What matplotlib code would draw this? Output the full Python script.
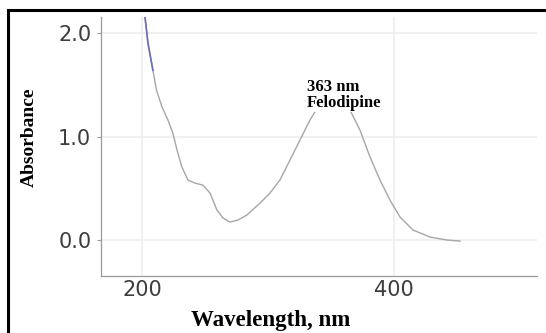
import matplotlib
matplotlib.use('Agg')
import matplotlib.pyplot as plt
from matplotlib.lines import Line2D

# spectrum (nm, absorbance)
wavelength = [200.5, 202.4, 204.8, 208.7, 211.5, 215.9, 220.6, 224.6, 227.8, 231.7,
              236.5, 242.1, 248.4, 254.0, 259.5, 264.3, 269.8, 276.2, 283.3, 293.7,
              301.6, 309.5, 317.5, 325.4, 333.3, 339.7, 344.0, 347.6, 353.2, 358.7,
              362.0, 365.1, 373.0, 381.0, 388.9, 396.8, 404.8, 415.1, 428.6, 442.1,
              452.4]
absorbance = [2.35, 2.155, 1.90, 1.64, 1.45, 1.285, 1.16, 1.03, 0.87, 0.705,
              0.58, 0.55, 0.53, 0.454, 0.29, 0.213, 0.174, 0.193, 0.242, 0.357,
              0.454, 0.58, 0.773, 0.966, 1.159, 1.285, 1.35, 1.40, 1.43, 1.39,
              1.33, 1.256, 1.063, 0.802, 0.58, 0.386, 0.222, 0.097, 0.029, 0.0,
              -0.01]
n_blue = 4  # first points drawn in blue

x_ticks = [200, 400]
y_ticks = [0.0, 1.0, 2.0]
y_ticklabels = ['0.0', '1.0', '2.0']
peak_label = '363 nm\nFelodipine'
peak_label_pos = (331, 1.56)

fig = plt.figure(figsize=(5.46, 3.33), dpi=100)
ax = fig.add_axes([0.185, 0.171, 0.7985, 0.778])

# frame lines at top and left of the picture
fig.lines.append(Line2D([8 / 546, 8 / 546], [0, 323 / 333], transform=fig.transFigure,
                        color='black', linewidth=2.2))
fig.lines.append(Line2D([8 / 546, 1], [323 / 333, 323 / 333], transform=fig.transFigure,
                        color='black', linewidth=2.2))

ax.plot(wavelength, absorbance, color='#a6a6a6', linewidth=1.0, zorder=2)
ax.plot(wavelength[:n_blue], absorbance[:n_blue], color='#6f6fb4', linewidth=1.2, zorder=3)

ax.set_xlim(167.5, 513.5)
ax.set_ylim(-0.348, 2.155)
ax.set_xticks(x_ticks)
ax.set_yticks(y_ticks)
ax.set_yticklabels(y_ticklabels)
ax.grid(True, color='#efefef', linewidth=1.3, zorder=0)
ax.set_axisbelow(True)

for side in ['top', 'right']:
    ax.spines[side].set_visible(False)
for side in ['left', 'bottom']:
    ax.spines[side].set_color('#9a9a9a')
    ax.spines[side].set_linewidth(0.9)

ax.tick_params(axis='x', length=0, pad=3, labelsize=15, labelcolor='#3d3d3d')
ax.tick_params(axis='y', length=3, width=0.8, color='#9a9a9a', pad=4, labelsize=15,
               labelcolor='#3d3d3d')

ax.set_xlabel('Wavelength, nm', family='Liberation Serif', fontweight='bold', fontsize=16.5)
ax.xaxis.set_label_coords(0.39, -0.13)
ax.xaxis.label.set_va('top')
ax.set_ylabel('Absorbance', family='Liberation Serif', fontweight='bold', fontsize=14)
ax.yaxis.set_label_coords(-0.145, 0.535)

ax.text(peak_label_pos[0], peak_label_pos[1], peak_label, family='Liberation Serif',
        fontweight='bold', fontsize=12, ha='left', va='top', linespacing=1.0,
        bbox=dict(facecolor='white', edgecolor='none', pad=1), zorder=4)

fig.savefig('out.png', dpi=100)
